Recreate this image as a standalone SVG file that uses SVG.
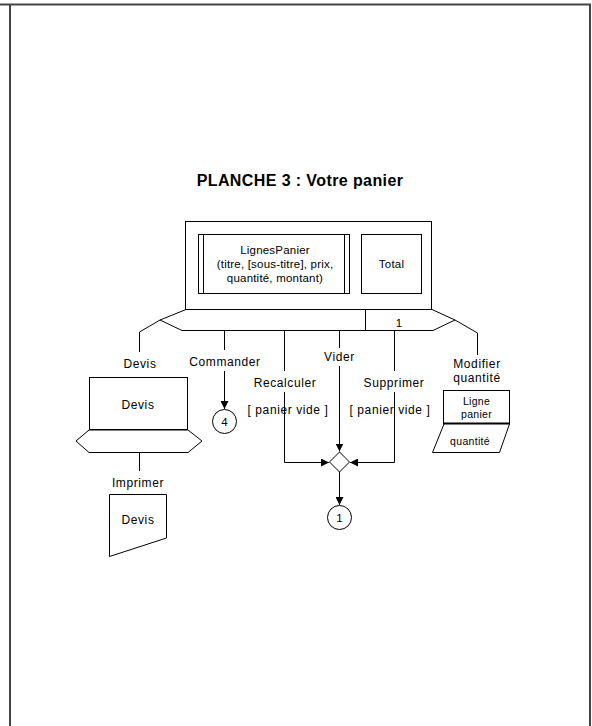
<svg xmlns="http://www.w3.org/2000/svg" width="592" height="726" viewBox="0 0 592 726">
  <style>
    .ln { fill: none; stroke: #000; stroke-width: 1; }
    .box { fill: #fff; stroke: #000; stroke-width: 1; }
    .thick { stroke: #000; stroke-width: 2; }
    .t { font-family: "Liberation Sans", Arial, sans-serif; font-size: 12px; fill: #000; text-anchor: middle; letter-spacing: 0.6px; }
    .s { font-family: "Liberation Sans", Arial, sans-serif; font-size: 11.5px; fill: #000; text-anchor: middle; letter-spacing: 0.2px; }
    .xs { font-family: "Liberation Sans", Arial, sans-serif; font-size: 10.5px; fill: #000; text-anchor: middle; letter-spacing: 0.3px; }
    .title { font-family: "Liberation Sans", Arial, sans-serif; font-size: 16px; font-weight: bold; fill: #000; text-anchor: middle; letter-spacing: 0.4px; }
  </style>
  <defs>
    <marker id="arrow" viewBox="0 0 10 10" refX="10" refY="5" markerWidth="8" markerHeight="8" markerUnits="userSpaceOnUse" orient="auto">
      <path d="M0,0 L10,5 L0,10 Z" fill="#000"/>
    </marker>
  </defs>

  <rect width="592" height="726" fill="#fff"/>

  <!-- page frame -->
  <g id="frame" fill="none" stroke="#444" stroke-width="2">
    <path d="M0,4.5 H591"/>
    <path d="M10,4.5 V726"/>
    <path d="M590,4.5 V726"/>
  </g>

  <text class="title" x="300" y="186">PLANCHE 3 : Votre panier</text>

  <!-- main window: Votre panier -->
  <g id="panier">
    <rect class="box" x="185.5" y="221.5" width="246" height="88"/>
    <rect class="box" x="198.5" y="234.5" width="151" height="59"/>
    <path class="ln" d="M203.5,234.5 V293.5 M344.5,234.5 V293.5"/>
    <text class="s" x="275" y="254">LignesPanier</text>
    <text class="s" x="275" y="268">(titre, [sous-titre], prix,</text>
    <text class="s" x="275" y="282">quantité, montant)</text>
    <rect class="box" x="361.5" y="234.5" width="60" height="59"/>
    <text class="s" x="391.5" y="268">Total</text>
    <!-- action bar -->
    <path class="box" d="M186,309.5 H432 L455,320 L433,330.5 H182 L160,320 Z"/>
    <path class="ln" d="M365.5,309.5 V330.5"/>
    <text class="s" x="399" y="327">1</text>
  </g>

  <!-- Devis window -->
  <g id="devis">
    <rect class="box" x="89.5" y="377.5" width="98" height="52"/>
    <path class="thick" d="M89,430 H188"/>
    <text class="t" x="138" y="409">Devis</text>
    <path class="box" d="M89,430 H188 L202,441 L188,452.5 H89 L76,441 Z"/>
  </g>

  <!-- printed Devis document -->
  <g id="impression">
    <path class="box" d="M109.5,494.5 H166.5 V538 L109.5,556.5 Z"/>
    <text class="t" x="138" y="524">Devis</text>
  </g>

  <!-- Ligne panier window -->
  <g id="ligne-panier">
    <rect class="box" x="443.5" y="390.5" width="66" height="33"/>
    <path class="thick" d="M443,423.5 H510"/>
    <text class="xs" x="476.5" y="405">Ligne</text>
    <text class="xs" x="476.5" y="418">panier</text>
    <path class="box" d="M444,424 H509.5 L499.5,452.5 H432.5 Z"/>
    <text class="xs" x="470" y="445">quantité</text>
  </g>

  <!-- connector 4 -->
  <g id="connecteur-4">
    <circle class="box" cx="224.5" cy="421.5" r="12"/>
    <text class="s" x="224.5" y="426">4</text>
  </g>

  <!-- decision -->
  <g id="decision">
    <path class="box" d="M339.5,452 L349.5,462 L339.5,472 L329.5,462 Z"/>
  </g>

  <!-- connector 1 -->
  <g id="connecteur-1">
    <circle class="box" cx="339.5" cy="517.5" r="12"/>
    <text class="s" x="339.5" y="522">1</text>
  </g>

  <!-- connectors -->
  <g id="liens" class="ln">
    <path d="M160,320 L139.5,332 V352"/>
    <path d="M455,320 L477.5,333 V355"/>
    <path d="M224.5,330.5 V350"/>
    <path d="M224.5,371 V409" marker-end="url(#arrow)"/>
    <path d="M284.5,330.5 V371"/>
    <path d="M284.5,392 V462.5 H329" marker-end="url(#arrow)"/>
    <path d="M339.5,330.5 V348"/>
    <path d="M339.5,366 V451.5" marker-end="url(#arrow)"/>
    <path d="M394.5,330.5 V371"/>
    <path d="M394.5,392 V462.5 H350" marker-end="url(#arrow)"/>
    <path d="M339.5,472 V505" marker-end="url(#arrow)"/>
    <path d="M139.5,452.5 V471"/>
  </g>

  <!-- labels -->
  <g id="libelles">
    <text class="t" x="140" y="368">Devis</text>
    <text class="t" x="225" y="366">Commander</text>
    <text class="t" x="285" y="387">Recalculer</text>
    <text class="t" x="339.5" y="361">Vider</text>
    <text class="t" x="394" y="387">Supprimer</text>
    <text class="t" x="477" y="368">Modifier</text>
    <text class="t" x="477" y="382">quantité</text>
    <text class="t" x="288" y="414">[ panier vide ]</text>
    <text class="t" x="390" y="414">[ panier vide ]</text>
    <text class="t" x="138" y="487">Imprimer</text>
  </g>
</svg>
